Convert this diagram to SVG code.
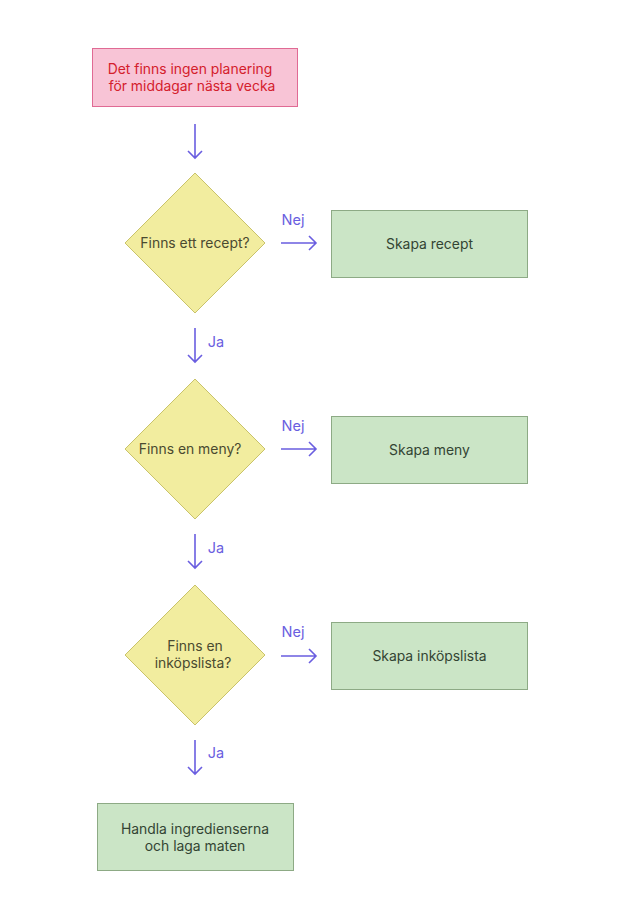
<svg xmlns="http://www.w3.org/2000/svg" width="620" height="919" viewBox="0 0 620 919">
<style>
text{font-family:Inter,"Noto Sans","Liberation Sans",sans-serif;font-size:13.9px;text-anchor:middle;dominant-baseline:central}
.dia{fill:#f2ed9f;stroke:#c9c36a;stroke-width:1}
.box{fill:#cbe5c6;stroke:#8daa85;stroke-width:1}
.dt{fill:#4a4a30}
.bt{fill:#334433}
.con{stroke:#6a5ee0;stroke-width:1.6;fill:none}
.lbl{fill:#6a5ee0;font-size:14.5px}
</style>
<rect width="620" height="919" fill="#ffffff"/>
<g id="start">
<rect x="92.5" y="48.5" width="205" height="58" fill="#f8c4d6" stroke="#e06a94" stroke-width="1"/>
<text x="190" y="69" fill="#d4202c">Det finns ingen planering</text>
<text x="192" y="86" fill="#d4202c">för middagar nästa vecka</text>
</g>
<g id="q1">
<polygon class="dia" points="195,173 265,243 195,313 125,243"/>
<text class="dt" x="195" y="243">Finns ett recept?</text>
</g>
<g id="b1">
<rect class="box" x="331.5" y="210.5" width="196" height="67"/>
<text class="bt" x="429.5" y="244">Skapa recept</text>
</g>
<g id="q2">
<polygon class="dia" points="195,379 265,449 195,519 125,449"/>
<text class="dt" x="190" y="449">Finns en meny?</text>
</g>
<g id="b2">
<rect class="box" x="331.5" y="416.5" width="196" height="67"/>
<text class="bt" x="429.5" y="450">Skapa meny</text>
</g>
<g id="q3">
<polygon class="dia" points="195,585 265,655 195,725 125,655"/>
<text class="dt" x="195" y="646">Finns en</text>
<text class="dt" x="193" y="663">inköpslista?</text>
</g>
<g id="b3">
<rect class="box" x="331.5" y="622.5" width="196" height="67"/>
<text class="bt" x="429.5" y="656">Skapa inköpslista</text>
</g>
<g id="end">
<rect class="box" x="97.5" y="803.5" width="196" height="67"/>
<text class="bt" x="195" y="829">Handla ingredienserna</text>
<text class="bt" x="195" y="846">och laga maten</text>
</g>
<g id="connectors">
<path class="con" d="M195,124 V158 M188,151 L195,158 L202,151"/>
<path class="con" d="M281,243 H316 M309,236 L316,243 L309,250"/>
<text class="lbl" x="293" y="219">Nej</text>
<path class="con" d="M195,328 V362 M188,355 L195,362 L202,355"/>
<text class="lbl" x="216" y="341">Ja</text>
<path class="con" d="M281,449 H316 M309,442 L316,449 L309,456"/>
<text class="lbl" x="293" y="425">Nej</text>
<path class="con" d="M195,534 V568 M188,561 L195,568 L202,561"/>
<text class="lbl" x="216" y="547">Ja</text>
<path class="con" d="M281,656 H316 M309,649 L316,656 L309,663"/>
<text class="lbl" x="293" y="631">Nej</text>
<path class="con" d="M195,740 V774 M188,767 L195,774 L202,767"/>
<text class="lbl" x="216" y="752">Ja</text>
</g>
</svg>
